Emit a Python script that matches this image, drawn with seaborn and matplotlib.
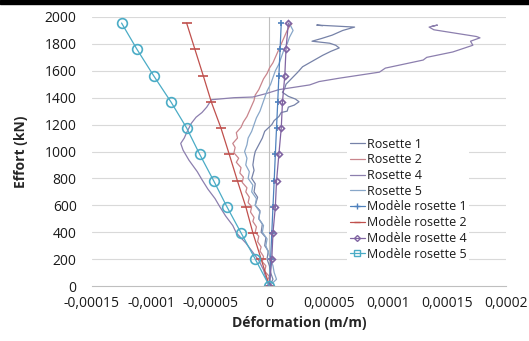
import numpy as np
import pandas as pd
import seaborn as sns
import matplotlib.pyplot as plt
from matplotlib.lines import Line2D
from matplotlib.patches import Rectangle
from matplotlib.ticker import FuncFormatter, MultipleLocator

r1_load = [0, 50, 100, 150, 200, 260, 300, 360, 400, 460, 500, 560, 600, 660, 700, 760, 800, 860, 900,
           960, 1000, 1050, 1100, 1150, 1200, 1230, 1260, 1290, 1300, 1330, 1345, 1370, 1390, 1410, 1440,
           1470, 1500, 1545, 1590, 1630, 1680, 1715, 1745, 1770, 1790, 1805, 1820, 1840, 1865, 1900, 1925, 1940, 1935]
r1_def = [0, 3, 1, 0, -2, -1, -4, -3, -7, -6, -9, -8, -12, -10, -13, -12, -15, -13, -14,
          -13, -12, -9, -6, -4, 2, 4, 8, 10, 15, 16, 21, 25, 22, 16, 11,
          13, 14, 19, 24, 28, 38, 45, 52, 59, 56, 51, 36, 44, 53, 62, 72, 40, 45]

r2_load = [0, 40, 70, 110, 150, 180, 220, 260, 290, 330, 370, 400, 440, 480, 510, 550, 590, 620, 660, 700,
           730, 770, 810, 840, 880, 920, 950, 990, 1030, 1060, 1100, 1140, 1180, 1220, 1260, 1300, 1340,
           1380, 1420, 1460, 1500, 1540, 1580, 1620, 1660, 1700, 1740, 1780, 1820, 1860, 1900, 1930, 1950]
r2_def = [0, -2, 0, -4, -3, -6, -5, -8, -7, -10, -9, -12, -11, -14, -13, -16, -15, -18, -17, -20,
          -19, -23, -22, -25, -24, -28, -26, -30, -29, -31, -27, -28, -24, -22, -19, -17, -15,
          -13, -12, -9, -7, -5, -2, 0, 3, 5, 7, 9, 11, 13, 15, 17, 19]

r4_load = [0, 60, 120, 190, 250, 320, 395, 450, 520, 590, 650, 720, 790, 850, 935, 1010, 1060, 1100,
           1140, 1210, 1255, 1290, 1330, 1385, 1400, 1405, 1430, 1460, 1495, 1520, 1545, 1590, 1620,
           1680, 1700, 1740, 1790, 1820, 1845, 1855, 1905, 1925, 1940, 1930]
r4_def = [0, -3, -5, -9, -14, -20, -28, -31, -37, -42, -46, -52, -57, -61, -68, -73, -75, -72,
          -70, -66, -62, -57, -53, -49, -30, -14, -3, 8, 34, 42, 59, 93, 98,
          130, 133, 155, 172, 170, 178, 175, 139, 135, 142, 137]

r5_load = [0, 50, 100, 150, 200, 250, 300, 350, 400, 450, 500, 550, 600, 650, 700, 750, 800, 850, 900,
           950, 1000, 1050, 1100, 1150, 1200, 1250, 1300, 1350, 1400, 1450, 1500, 1550, 1600, 1650,
           1700, 1750, 1800, 1850, 1900, 1950]
r5_def = [0, 6, 4, 3, 1, -1, -3, -2, -6, -5, -9, -8, -12, -11, -15, -14, -18, -17, -20,
          -19, -21, -19, -18, -15, -13, -11, -8, -6, -4, -2, 1, 3, 5, 8,
          10, 12, 15, 17, 20, 17]

# model rosettes
model_load = [0, 200, 395, 590, 780, 980, 1175, 1365, 1565, 1760, 1955]
m1_def = [0, 1, 2, 3, 4, 5, 6, 7, 8, 9, 10]
m2_def = [0, -7, -14, -20, -27, -34, -41, -49, -56, -63, -70]
m4_def = [0, 2, 3, 5, 6, 8, 10, 11, 13, 14, 16]
m5_def = [0, -12, -24, -36, -47, -59, -70, -83, -98, -112, -125]

sns.set_style("white")
plt.rcParams['font.family'] = ['Open Sans', 'DejaVu Sans']
plt.rcParams['axes.unicode_minus'] = False

fig = plt.figure(figsize=(5.29, 3.41), dpi=100)
ax = fig.add_axes([92 / 529, 1 - 286 / 341, 414 / 529, 269 / 341])

grid_c = '#D9D9D9'
for y in range(200, 2001, 200):
    ax.axhline(y, color=grid_c, lw=0.8, zorder=0)
ax.axvline(0, color='#BFBFBF', lw=0.8, zorder=0)

measured = [
    ('Rosette 1', r1_def, r1_load, '#7682A8'),
    ('Rosette 2', r2_def, r2_load, '#C9858C'),
    ('Rosette 4', r4_def, r4_load, '#8C7FAE'),
    ('Rosette 5', r5_def, r5_load, '#88A7C9'),
]
for name, d, f, c in measured:
    df = pd.DataFrame({'def': np.array(d) * 1e-6, 'load': f})
    sns.lineplot(data=df, x='def', y='load', sort=False, estimator=None,
                 color=c, lw=0.9, ax=ax)

models = [
    ('Modèle rosette 1', m1_def, '#4F81BD', '+', 5),
    ('Modèle rosette 2', m2_def, '#C0504D', '_', 7),
    ('Modèle rosette 4', m4_def, '#8064A2', 'D', 3),
    ('Modèle rosette 5', m5_def, '#4BACC6', 'o', 7),
]
for name, d, c, m, ms in models:
    df = pd.DataFrame({'def': np.array(d) * 1e-6, 'load': model_load})
    sns.lineplot(data=df, x='def', y='load', sort=False, estimator=None,
                 color=c, lw=0.9, marker=m, markersize=ms, mfc='none',
                 mec=c, mew=1.2, ax=ax)

ax.set_xlim(-0.00015, 0.0002)
ax.set_ylim(0, 2000)
ax.xaxis.set_major_locator(MultipleLocator(0.00005))
ax.yaxis.set_major_locator(MultipleLocator(200))


def fmt(v, pos):
    if abs(v) < 1e-12:
        return '0'
    s = f"{v:.5f}".rstrip('0').rstrip('.')
    return s.replace('.', ',')


ax.xaxis.set_major_formatter(FuncFormatter(fmt))
for s in ['top', 'right', 'left']:
    ax.spines[s].set_visible(False)
ax.spines['bottom'].set_color('#BFBFBF')
ax.spines['bottom'].set_linewidth(0.8)
ax.tick_params(axis='x', direction='out', length=5, width=0.8, color='#BFBFBF',
               labelsize=10, pad=2, labelcolor='#1a1a1a')
ax.tick_params(axis='y', length=0, labelsize=10, pad=11, labelcolor='#1a1a1a')

ax.set_xlabel('Déformation (m/m)', fontsize=10, fontweight='bold', labelpad=4)
ax.set_ylabel('Effort (kN)', fontsize=10, fontweight='bold', labelpad=12)

handles = [Line2D([], [], color=c, lw=0.9) for _, _, _, c in measured]
legend_markers = [('+', 5), ('_', 5), ('D', 3), ('s', 4)]
for (name, d, c, m, ms), (lm, lms) in zip(models, legend_markers):
    handles.append(Line2D([], [], color=c, lw=0.9, marker=lm, markersize=lms,
                          mfc='none', mec=c, mew=1.0))
labels = [n for n, _, _, _ in measured] + [n for n, _, _, _, _ in models]
leg = ax.legend(handles, labels, loc='upper left',
                bbox_to_anchor=(347 / 529, 1 - 135 / 341), bbox_transform=fig.transFigure,
                frameon=True, facecolor='white', edgecolor='none', framealpha=1,
                fontsize=9, handlelength=1.2, handletextpad=0.2, labelspacing=0.22,
                borderpad=0.2, borderaxespad=0, fancybox=False)
for t in leg.get_texts():
    t.set_color('#1a1a1a')

fig.patches.append(Rectangle((0, 1 - 4 / 341), 1, 4 / 341, transform=fig.transFigure,
                             color='black', zorder=10))

fig.savefig('out.png', dpi=100)
